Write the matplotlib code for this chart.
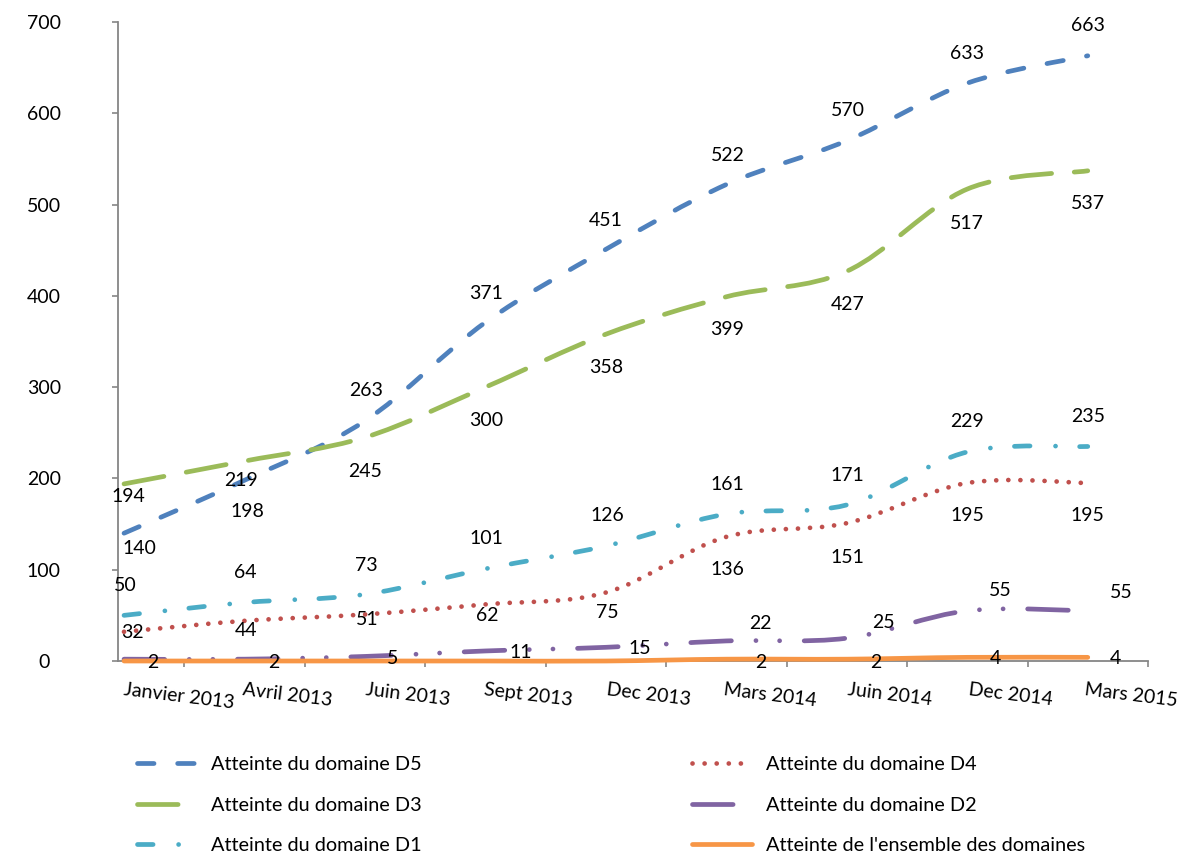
import numpy as np
import matplotlib
matplotlib.use("Agg")
import matplotlib.pyplot as plt
from matplotlib.path import Path
from matplotlib.patches import PathPatch
from matplotlib.lines import Line2D
from matplotlib.transforms import ScaledTranslation

plt.rcParams['font.family'] = ['Lato', 'DejaVu Sans']

periods = ["Janvier 2013", "Avril 2013", "Juin 2013", "Sept 2013", "Dec 2013",
           "Mars 2014", "Juin 2014", "Dec 2014", "Mars 2015"]

d5 = [140, 198, 263, 371, 451, 522, 570, 633, 663]
d4 = [32, 44, 51, 62, 75, 136, 151, 195, 195]
d3 = [194, 219, 245, 300, 358, 399, 427, 517, 537]
d2 = [2, 2, 5, 11, 15, 22, 25, 55, 55]
d1 = [50, 64, 73, 101, 126, 161, 171, 229, 235]
ensemble = [0, 0, 0, 0, 0, 2, 2, 4, 4]

names = ["Atteinte du domaine D5", "Atteinte du domaine D4",
         "Atteinte du domaine D3", "Atteinte du domaine D2",
         "Atteinte du domaine D1", "Atteinte de l'ensemble des domaines"]

# line look: colour, dash pattern (in linewidths, None = solid)
styles = [
    ("#4F81BD", (3.5, 5.0)),
    ("#C0504D", (0.01, 2.55)),
    ("#9BBB59", (8.6, 4.8)),
    ("#8064A2", (8.6, 5.2, 0.01, 5.0, 0.01, 5.2)),
    ("#4BACC6", (3.3, 5.4, 0.01, 5.1)),
    ("#F79646", None),
]

# where each value label sits relative to its point (pixels, +y = down)
label_offsets = [
    [(15, 15), (3, 31), (1, -30), (1, -29), (0, -29), (1, -29), (1, -30), (0, -30), (0, -30)],
    [(8, 1), (2, 10), (2, 5), (2, 11), (1, 20), (1, 33), (1, 34), (0, 33), (0, 33)],
    [(4, 13), (-3, 19), (0, 34), (1, 33), (0, 33), (1, 33), (1, 33), (0, 34), (0, 33)],
    [(29, 3), (29, 3), (28, 2), (35, 2), (34, 1), (34, -17), (37, -16), (33, -20), (34, -18)],
    [(1, -30), (1, -30), (1, -29), (1, -30), (1, -30), (1, -30), (1, -29), (0, -30), (0, -30)],
    [(0, 0)] * 5 + [(34, 3), (29, 3), (28, 1), (28, 1)],
]

LW = 3.4
FS = 14


def smooth_path(xs, ys):
    # Bezier curve through the points (Catmull-Rom tangents)
    pts = np.column_stack([xs, ys]).astype(float)
    n = len(pts)
    verts = [pts[0]]
    codes = [Path.MOVETO]
    for i in range(n - 1):
        p0 = pts[max(i - 1, 0)]
        p1 = pts[i]
        p2 = pts[i + 1]
        p3 = pts[min(i + 2, n - 1)]
        verts += [p1 + (p2 - p0) / 6, p2 - (p3 - p1) / 6, p2]
        codes += [Path.CURVE4] * 3
    return Path(verts, codes)


fig = plt.figure(figsize=(11.79, 8.55), dpi=100)
ax = fig.add_axes([118 / 1179, 1 - 661 / 855, 1030 / 1179, 639 / 855])

x = np.arange(len(periods))
series = [d5, d4, d3, d2, d1, ensemble]
handles = []
for vals, (col, dash), offs in zip(series, styles, label_offsets):
    ls = "-" if dash is None else (0, dash)
    patch = PathPatch(smooth_path(x, vals), fill=False, edgecolor=col, lw=LW,
                      linestyle=ls, capstyle="round", joinstyle="round",
                      clip_on=False, zorder=3)
    ax.add_patch(patch)
    h = Line2D([], [], color=col, lw=LW, linestyle=ls,
               dash_capstyle="round", solid_capstyle="round")
    handles.append(h)
    for xi, v, (dx, dy) in zip(x, vals, offs):
        if v == 0:
            continue
        ax.annotate(str(v), (xi, v), xytext=(dx * 0.72, -dy * 0.72),
                    textcoords="offset points", ha="center", va="center",
                    fontsize=FS, color="black", zorder=5, annotation_clip=False)

ax.set_xlim(-0.05, 8.5)
ax.set_ylim(0, 700)
ax.set_yticks(range(0, 701, 100))
ax.set_xticks(x + 0.5)
ax.set_xticklabels(periods, rotation=-7, fontsize=FS)
ax.tick_params(axis="y", labelsize=FS, direction="out", length=4.5, width=1.2,
               color="#868686", pad=49)
for lab in ax.get_yticklabels():
    lab.set_horizontalalignment("center")
ax.tick_params(axis="x", direction="out", length=4.5, width=1.2,
               color="#868686", pad=10)
# category names sit a little left of their tick (first one less so)
for i, lab in enumerate(ax.get_xticklabels()):
    dx = -5 if i == 0 else -17
    lab.set_transform(lab.get_transform() +
                      ScaledTranslation(dx / 100, 0, fig.dpi_scale_trans))

for side in ["top", "right"]:
    ax.spines[side].set_visible(False)
for side in ["left", "bottom"]:
    ax.spines[side].set_color("#868686")
    ax.spines[side].set_linewidth(1.3)

# two legend columns, left: D5 D3 D1, right: D4 D2 ensemble
leg_kw = dict(loc="center left", frameon=False, fontsize=14.3,
              handlelength=3.0, handletextpad=0.75, labelspacing=1.2,
              borderpad=0, borderaxespad=0)
leg1 = fig.legend([handles[0], handles[2], handles[4]],
                  [names[0], names[2], names[4]],
                  bbox_to_anchor=(137 / 1179, 1 - 805 / 855), **leg_kw)
leg2 = fig.legend([handles[1], handles[3], handles[5]],
                  [names[1], names[3], names[5]],
                  bbox_to_anchor=(692 / 1179, 1 - 805 / 855), **leg_kw)

fig.savefig("out.png", dpi=100)
